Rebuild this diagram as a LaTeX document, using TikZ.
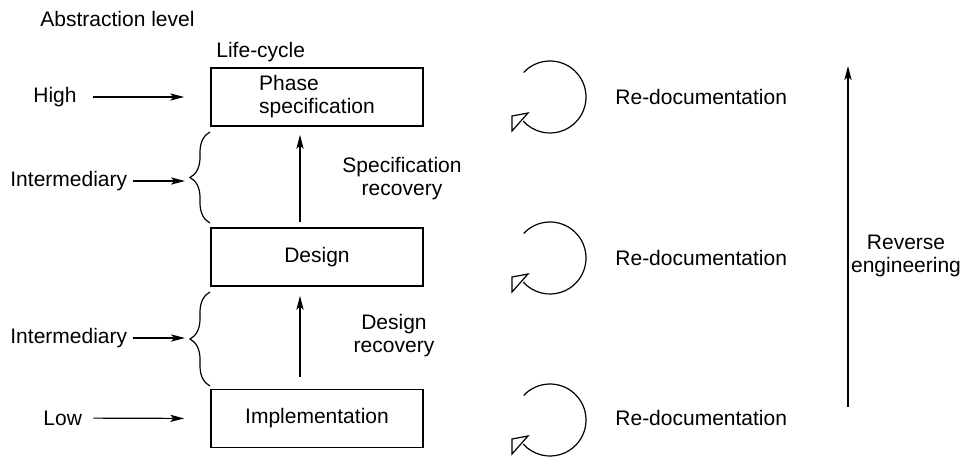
\documentclass[tikz,border=0pt]{standalone}
\usepackage{fontspec}
\setmainfont{Liberation Sans}
\usetikzlibrary{arrows.meta,decorations.pathreplacing}
\tikzset{
  caja/.style={draw, line width=0.8pt, minimum width=106pt, minimum height=29pt, inner sep=0pt},
  flecha/.style={-{Stealth[length=7pt,width=3.6pt,inset=1.6pt]}, line width=0.6pt},
  llave/.style={decorate, decoration={brace, amplitude=10pt}, line width=0.6pt},
  ciclo/.style={line width=0.6pt, line join=miter},
}
\begin{document}
\begin{tikzpicture}[x=0.5pt, y=-0.5pt, every node/.style={inner sep=0pt, font=\fontsize{10.5}{11.5}\selectfont}]
            \useasboundingbox (0,0) rectangle (967,456);
            % Titulos
            \node[anchor=west] (nivel) at (40,19) {Abstraction level};
            \node[anchor=west] (ciclovida) at (216,52) {Life-cycle};
            % Cajas de fases
            \node[caja, align=left] (fase) at (317,97) {Phase\\specification};
            \node[caja] (diseno) at (317,257) {Design};
            \node[caja] (impl) at (317,418.5) {Implementation};
            % Niveles de abstraccion
            \node[anchor=west] (alta) at (33,97) {High};
            \node[anchor=west] (inter1) at (10,181) {Intermediary};
            \node[anchor=west] (inter2) at (10,338) {Intermediary};
            \node[anchor=west] (baja) at (43,418) {Low};
            \draw[flecha, shorten <=8pt, shorten >=13pt] (alta) -- (fase.west);
            \draw[flecha, shorten <=5.5pt, shorten >=13pt] (baja) -- (impl.west);
            % Llaves intermedias
            \draw[llave] (210,223) -- (210,132);
            \draw[llave] (210,386) -- (210,292);
            \coordinate (puntaA) at (190,181);
            \coordinate (puntaB) at (190,338);
            \draw[flecha, shorten <=2.5pt, shorten >=2.5pt] (inter1) -- (puntaA);
            \draw[flecha, shorten <=2.5pt, shorten >=2.5pt] (inter2) -- (puntaB);
            % Recuperacion
            \coordinate (eje) at (300,0);
            \draw[flecha, shorten <=2.5pt, shorten >=4pt] (diseno.north -| eje) -- (fase.south -| eje);
            \draw[flecha, shorten <=6pt, shorten >=4.5pt] (impl.north -| eje) -- (diseno.south -| eje);
            \node[align=center] (recesp) at (402,179) {Specification\\recovery};
            \node[align=center] (recdis) at (394,336) {Design\\recovery};
            % Re-documentacion
            \foreach \cy in {97,258,420}{
              \draw[ciclo] (550,\cy) ++(223:36) arc[start angle=223, end angle=498, radius=36];
              \draw[ciclo] (550,\cy) ++(-38,19) -- ++(16,-3) -- ++(-16,18) -- cycle;
            }
            \node[anchor=west] (redoc1) at (615,97) {Re-documentation};
            \node[anchor=west] (redoc2) at (615,258) {Re-documentation};
            \node[anchor=west] (redoc3) at (615,418) {Re-documentation};
            % Ingenieria inversa
            \coordinate (invB) at (848,407);
            \coordinate (invA) at (848,66);
            \draw[flecha] (invB) -- (invA);
            \node[align=center] (inversa) at (906,256) {Reverse\\engineering};
\end{tikzpicture}
\end{document}
